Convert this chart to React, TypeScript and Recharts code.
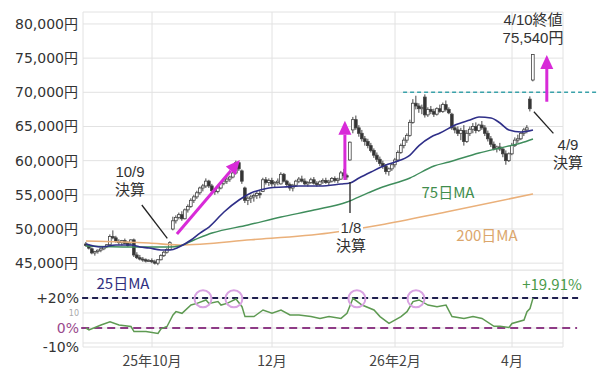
import React from "react";
import {
  ComposedChart,
  Bar,
  Line,
  XAxis,
  YAxis,
  CartesianGrid,
  ReferenceLine,
  ReferenceDot,
} from "recharts";

// daily candles in units of 100 yen: [open, high, low, close]
const augSepCandles = [
  [478, 481, 474, 476], [476, 478, 470, 472], [471, 473, 463, 465], [465, 468, 461, 467],
  [467, 470, 464, 469], [469, 472, 466, 471], [471, 475, 469, 474], [474, 478, 472, 477],
  [477, 492, 476, 489], [489, 498, 485, 487], [487, 490, 480, 482], [482, 485, 477, 480],
  [480, 484, 476, 483], [483, 486, 478, 479], [479, 482, 474, 476], [480, 485, 476, 484],
  [484, 486, 459, 462], [462, 466, 456, 458], [458, 462, 454, 456], [456, 459, 452, 455],
  [455, 457, 451, 453], [453, 456, 452, 454],
];
const octCandles = [
  [454, 457, 450, 452], [452, 455, 448, 450], [450, 456, 447, 455], [455, 463, 454, 461],
  [461, 468, 459, 466], [466, 472, 464, 470], [470, 482, 469, 480], [500, 518, 498, 512],
  [512, 520, 508, 517], [517, 524, 514, 521], [521, 526, 512, 515], [515, 530, 514, 528],
  [528, 536, 524, 533], [533, 545, 531, 542], [542, 550, 538, 547], [547, 556, 544, 553],
  [553, 562, 550, 560], [560, 566, 555, 563], [563, 574, 560, 570], [570, 572, 560, 563],
  [563, 566, 552, 556], [556, 560, 550, 555],
];
const novCandles = [
  [555, 562, 552, 560], [560, 570, 558, 567], [567, 574, 564, 570], [570, 576, 566, 573],
  [573, 578, 569, 576], [576, 584, 574, 582], [582, 600, 580, 597], [597, 598, 585, 588],
  [585, 587, 566, 570], [560, 562, 538, 542], [542, 548, 535, 545], [545, 550, 538, 547],
  [547, 552, 540, 549], [549, 555, 544, 552], [552, 556, 545, 550], [555, 575, 554, 572],
  [572, 576, 565, 568], [568, 574, 563, 571],
];
const decCandles = [
  [571, 575, 562, 566], [566, 570, 560, 568], [568, 574, 564, 570], [566, 583, 565, 580],
  [580, 582, 568, 570], [570, 572, 562, 565], [565, 568, 556, 560], [560, 566, 555, 564],
  [564, 572, 562, 570], [570, 576, 567, 573], [573, 578, 568, 570], [570, 574, 564, 566],
  [566, 570, 562, 568], [568, 575, 566, 572], [572, 576, 565, 567], [567, 570, 562, 565],
  [565, 571, 563, 569], [569, 574, 566, 571], [571, 575, 566, 568], [568, 572, 564, 570],
  [570, 576, 568, 574], [574, 577, 568, 571],
];
const janCandles = [
  [571, 575, 567, 573], [573, 585, 572, 582], [582, 588, 575, 578], [578, 581, 572, 576],
  [601, 628, 600, 627], [645, 664, 640, 660], [660, 666, 645, 648], [648, 652, 635, 640],
  [640, 645, 628, 632], [632, 636, 622, 628], [628, 632, 618, 622], [622, 626, 612, 615],
  [615, 618, 604, 608], [608, 612, 598, 602], [602, 606, 592, 596], [596, 600, 588, 592],
  [592, 595, 580, 584], [584, 590, 578, 588], [588, 596, 585, 594],
];
const febCandles = [
  [594, 604, 590, 601], [601, 615, 598, 612], [612, 625, 610, 622], [622, 634, 618, 630],
  [630, 640, 626, 637], [637, 660, 635, 656], [656, 690, 654, 684], [684, 695, 675, 680],
  [680, 684, 670, 676], [676, 682, 668, 678], [693, 697, 663, 667], [667, 678, 664, 675],
  [675, 680, 668, 672], [672, 676, 664, 668], [668, 678, 666, 676], [676, 682, 670, 672],
  [672, 685, 670, 682], [682, 688, 672, 675],
];
const marCandles = [
  [675, 678, 668, 670], [668, 670, 645, 648], [648, 652, 640, 645], [645, 650, 636, 640],
  [640, 648, 630, 644], [644, 652, 622, 628], [628, 645, 626, 640], [640, 650, 636, 646],
  [646, 655, 640, 650], [650, 656, 640, 644], [644, 654, 642, 652], [652, 658, 645, 648],
  [648, 652, 636, 640], [640, 644, 628, 632], [632, 636, 620, 624], [624, 628, 615, 618],
  [618, 622, 612, 620], [620, 626, 614, 617], [617, 620, 605, 610], [610, 615, 594, 600],
  [600, 612, 598, 610],
];
const aprCandles = [
  [610, 626, 608, 622], [622, 634, 620, 630], [630, 638, 626, 632], [632, 642, 630, 640],
  [640, 648, 636, 645], [645, 652, 640, 648], [690, 694, 672, 676], [718, 756, 716, 755.4],
];

// moving averages: [day index, yen]
const ma25Pts = [
  [0, 47800], [5, 47360], [10, 47660], [15, 47660], [18, 47360], [21, 47220], [25, 46930],
  [28, 46930], [31, 47360], [35, 48390], [38, 49410], [41, 50290], [46, 52490], [51, 54240],
  [55, 55270], [58, 55700], [61, 56000], [66, 56140], [71, 56290], [78, 56290], [85, 56580],
  [88, 56730], [91, 57460], [95, 58340], [100, 59360], [103, 59800], [108, 60820], [111, 62200],
  [115, 63460], [118, 64040], [123, 65210], [128, 65950], [131, 66380], [135, 66240],
  [138, 65510], [141, 64480], [145, 64190], [149, 64480],
];
const ma75Pts = [
  [0, 47510], [15, 47360], [28, 47360], [31, 47510], [36, 48390], [42, 49410], [54, 50590],
  [65, 51750], [76, 52780], [87, 53950], [94, 55270], [98, 56000], [108, 57460], [116, 59220],
  [121, 59800], [131, 61120], [138, 61850], [145, 62580], [149, 63170],
];
const ma200Pts = [
  [0, 48240], [21, 47950], [31, 47660], [55, 48420], [81, 49410], [98, 50580], [120, 52490],
  [149, 55120],
];

// deviation from 25-day MA (%): [day index, value]
const devPts = [
  [0, 0], [1, -1.3], [5, 2], [8, 4.2], [11, 2], [15, 1], [16, -2.4], [20, -2.4], [24, -3.6],
  [25, -0.5], [27, 1], [29, 8.7], [30, 10.9], [32, 9.8], [35, 15.3], [37, 16.4], [40, 18.7],
  [41, 16.4], [44, 17.6], [45, 15.3], [47, 16.4], [50, 19.3], [52, 14.2], [53, 7.6], [56, 7.6],
  [59, 12], [62, 9.8], [65, 12], [68, 8.7], [71, 8.7], [75, 7.6], [78, 6.4], [81, 7.6],
  [85, 6.4], [87, 9.8], [89, 19.8], [92, 15.3], [96, 12], [98, 7.6], [101, 3.1], [105, 7.6],
  [107, 10.9], [109, 17.6], [111, 18.7], [114, 15.3], [117, 14.2], [120, 15.3], [122, 7.6],
  [126, 6.4], [129, 7.6], [132, 6.4], [136, 1.1], [138, 1.1], [141, 0.4], [142, 3], [146, 5.3],
  [147, 10.9], [148, 13], [149, 19.91],
];
const peakIdx = [39, 49.3, 90.3, 110];

const priceTicks = [45000, 50000, 55000, 60000, 65000, 70000, 75000, 80000];
const devTicks = [-10, 0, 10, 20];
const devTickLabels = ["-10%", "0%", "10", "+20%"];
const monthTicks = [22, 62, 103, 142];
const monthLabels = ["25年10月", "12月", "26年2月", "4月"];

const candles = [
  ...augSepCandles, ...octCandles, ...novCandles, ...decCandles,
  ...janCandles, ...febCandles, ...marCandles, ...aprCandles,
];
const toMap = (pts: number[][]) => new Map(pts.map(([i, v]) => [i, v]));
const m25 = toMap(ma25Pts);
const m75 = toMap(ma75Pts);
const m200 = toMap(ma200Pts);
const mDev = toMap(devPts);

const rows = candles.map(([o, h, l, c], i) => ({
  i,
  o: o * 100,
  h: h * 100,
  l: l * 100,
  c: c * 100,
  range: [l * 100, h * 100],
  ma25: m25.get(i) ?? null,
  ma75: m75.get(i) ?? null,
  ma200: m200.get(i) ?? null,
  dev: mDev.get(i) ?? null,
}));

const X_DOMAIN = [-1, 159];
const MAGENTA = "#d82ad8";
const NOTE_FONT = "'Liberation Sans', 'Noto Sans CJK JP', sans-serif";
const LABEL_FONT = "'Noto Sans CJK JP', 'Noto Sans', sans-serif";
const AXIS_FONT = "'DejaVu Sans', 'Noto Sans CJK JP', sans-serif";

const Candle = (props: any) => {
  const { x, y, width, height, payload } = props;
  const { o, h, l, c } = payload;
  const span = h - l || 1;
  const py = (v: number) => y + ((h - v) / span) * height;
  const top = py(Math.max(o, c));
  const bot = py(Math.min(o, c));
  const cx = x + width / 2;
  return (
    <g>
      <line x1={cx} x2={cx} y1={y} y2={y + height} stroke="#444" strokeWidth={1} />
      <rect
        x={x}
        y={top}
        width={width}
        height={Math.max(bot - top, 1)}
        fill={c >= o ? "#fff" : "#333"}
        stroke="#444"
        strokeWidth={0.8}
      />
    </g>
  );
};

const Arrow = (props: any) => {
  const { x1, y1, x2, y2 } = props;
  const dx = x2 - x1;
  const dy = y2 - y1;
  const len = Math.hypot(dx, dy) || 1;
  const ux = dx / len;
  const uy = dy / len;
  const bx = x2 - ux * 14;
  const by = y2 - uy * 14;
  const pts = `${x2},${y2} ${bx - uy * 6.5},${by + ux * 6.5} ${bx + uy * 6.5},${by - ux * 6.5}`;
  return (
    <g>
      <line x1={x1} y1={y1} x2={bx} y2={by} stroke={MAGENTA} strokeWidth={3} />
      <polygon points={pts} fill={MAGENTA} />
    </g>
  );
};

const DevTick = (props: any) => {
  const { x, y, payload } = props;
  const k = devTicks.indexOf(payload.value);
  const small = payload.value === 10;
  const fill = payload.value === 0 ? "#9a4a8e" : small ? "#aaa" : "#333";
  return (
    <text
      x={x}
      y={y + (payload.value === -10 ? 4 : 0)}
      dy="0.355em"
      textAnchor="end"
      fill={fill}
      fontSize={small ? 8 : 14}
      fontFamily={AXIS_FONT}
    >
      {devTickLabels[k]}
    </text>
  );
};

const Note = ({ x, y, lines, color = "#333", size = 15, bg, font = NOTE_FONT }: any) => (
  <div
    style={{
      position: "absolute",
      left: x - 60,
      top: y,
      width: 120,
      textAlign: "center",
      color,
      fontSize: size,
      lineHeight: "18px",
      fontFamily: font,
    }}
  >
    {lines.map((t: string) => (
      <div key={t} style={{ height: 18 }}>
        <span style={{ background: bg, padding: bg ? "0 2px" : 0 }}>{t}</span>
      </div>
    ))}
  </div>
);

export default function App() {
  return (
    <div style={{ position: "absolute", left: 0, top: 0, width: 600, height: 384, background: "#fff", overflow: "hidden" }}>
      <div style={{ position: "absolute", left: 0, top: 0 }}>
        <ComposedChart width={600} height={275} data={rows} margin={{ top: 12, right: 37, bottom: 5, left: 0 }}>
          <CartesianGrid stroke="#e2e2e2" />
          <XAxis dataKey="i" type="number" domain={X_DOMAIN} ticks={monthTicks} allowDataOverflow hide />
          <YAxis
            type="number"
            domain={[44000, 81750]}
            ticks={priceTicks}
            interval={0}
            allowDataOverflow
            width={83}
            axisLine={false}
            tickLine={false}
            tickSize={0}
            tickMargin={5}
            tickFormatter={(v: number) => `${v.toLocaleString("en-US")}円`}
            tick={{ fill: "#333", fontSize: 14, fontFamily: AXIS_FONT }}
          />
          <Line dataKey="ma200" type="monotone" stroke="#eab07a" strokeWidth={1.6} dot={false} connectNulls isAnimationActive={false} />
          <Line dataKey="ma75" type="monotone" stroke="#3f8d5c" strokeWidth={1.4} dot={false} connectNulls isAnimationActive={false} />
          <Line dataKey="ma25" type="monotone" stroke="#2f2f88" strokeWidth={1.6} dot={false} connectNulls isAnimationActive={false} />
          <Bar dataKey="range" barSize={3} shape={Candle} isAnimationActive={false} />
          <ReferenceLine
            segment={[{ x: 105.7, y: 70000 }, { x: 170.3, y: 70000 }]}
            stroke="#3aa2aa"
            strokeWidth={1.6}
            strokeDasharray="4 3"
            ifOverflow="visible"
          />
          <ReferenceLine segment={[{ x: 30.3, y: 49270 }, { x: 51.3, y: 60090 }]} shape={Arrow} ifOverflow="visible" />
          <ReferenceLine segment={[{ x: 86.3, y: 57170 }, { x: 86.3, y: 65840 }]} shape={Arrow} ifOverflow="visible" />
          <ReferenceLine segment={[{ x: 153.6, y: 68620 }, { x: 153.6, y: 75460 }]} shape={Arrow} ifOverflow="visible" />
          <ReferenceLine segment={[{ x: 18.6, y: 53510 }, { x: 27.1, y: 48640 }]} stroke="#222" strokeWidth={1.3} ifOverflow="visible" />
          <ReferenceLine segment={[{ x: 88, y: 56870 }, { x: 88, y: 52340 }]} stroke="#222" strokeWidth={1.3} ifOverflow="visible" />
          <ReferenceLine segment={[{ x: 149.3, y: 67160 }, { x: 155.8, y: 64000 }]} stroke="#222" strokeWidth={1.3} ifOverflow="visible" />
        </ComposedChart>
      </div>
      <div style={{ position: "absolute", left: 0, top: 270 }}>
        <ComposedChart width={600} height={114} data={rows} margin={{ top: 0, right: 37, bottom: 0, left: 0 }}>
          <CartesianGrid stroke="#e2e2e2" />
          <XAxis
            dataKey="i"
            type="number"
            domain={X_DOMAIN}
            ticks={monthTicks}
            interval={0}
            allowDataOverflow
            height={37}
            axisLine={false}
            tickLine={false}
            tickSize={0}
            tickMargin={9}
            tickFormatter={(v: number) => monthLabels[monthTicks.indexOf(v)]}
            tick={{ fill: "#444", fontSize: 14, fontFamily: LABEL_FONT }}
          />
          <YAxis
            type="number"
            domain={[-12.67, 38.67]}
            ticks={devTicks}
            interval={0}
            allowDataOverflow
            width={83}
            axisLine={false}
            tickLine={false}
            tickSize={0}
            tickMargin={4}
            tick={DevTick}
          />
          <ReferenceLine
            segment={[{ x: -1.3, y: 20 }, { x: 164.7, y: 20 }]}
            stroke="#1f1f50"
            strokeWidth={2}
            strokeDasharray="6 4"
            ifOverflow="visible"
          />
          <ReferenceLine
            segment={[{ x: -1.6, y: 0 }, { x: 163.7, y: 0 }]}
            stroke="#8e3b86"
            strokeWidth={2}
            strokeDasharray="8 5"
            ifOverflow="visible"
          />
          <Line dataKey="dev" type="linear" stroke="#5e9a52" strokeWidth={1.5} dot={false} connectNulls isAnimationActive={false} />
          {peakIdx.map((p) => (
            <ReferenceDot key={p} x={p} y={19.5} r={8.5} fill="none" stroke="#d9a2e2" strokeWidth={2} ifOverflow="visible" />
          ))}
        </ComposedChart>
      </div>
      <Note x={130} y={163} lines={["10/9", "決算"]} />
      <Note x={351} y={219} lines={["1/8", "決算"]} bg="#fff" />
      <Note x={568} y={136} lines={["4/9", "決算"]} />
      <Note x={533} y={11} lines={["4/10終値", "75,540円"]} />
      <Note x={448} y={183} lines={["75日MA"]} color="#3f8d4c" font={LABEL_FONT} />
      <Note x={487} y={226} lines={["200日MA"]} color="#dba66c" font={LABEL_FONT} />
      <Note x={123} y={274} lines={["25日MA"]} color="#2f2f80" font={LABEL_FONT} />
      <Note x={552} y={275} lines={["+19.91%"]} color="#4a9a4a" font={LABEL_FONT} />
    </div>
  );
}
